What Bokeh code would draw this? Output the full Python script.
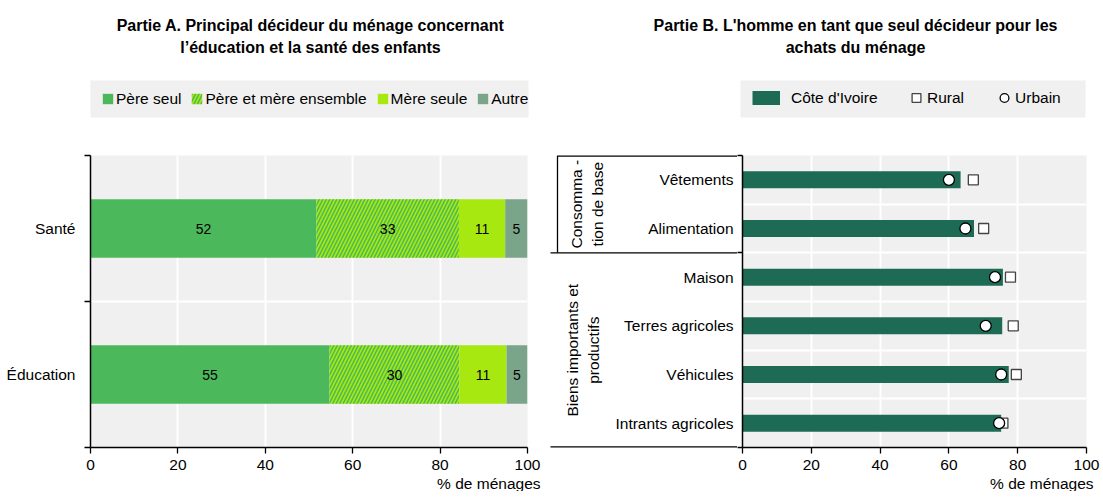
import math
import numpy as np
from bokeh.plotting import figure
from bokeh.models import (ColumnDataSource, Range1d, FixedTicker, Legend, LegendItem,
                          LabelSet, Title)
from bokeh.layouts import row, column
from bokeh.core.properties import value
from bokeh.embed import file_html
from bokeh.resources import INLINE

FONT = "Liberation Sans"

# ---------------- Panel A data ----------------
a_title = ["Partie A. Principal décideur du ménage concernant",
           "l’éducation et la santé des enfants"]
a_categories = ["Santé", "Éducation"]
a_series = ["Père seul", "Père et mère ensemble", "Mère seule", "Autre"]
a_pere_seul = [51.7, 54.7]
a_pere_mere = [32.6, 29.7]
a_mere_seule = [10.6, 10.8]
a_autre = [5.1, 4.8]

# ---------------- Panel B data ----------------
b_title = ["Partie B. L'homme en tant que seul décideur pour les",
           "achats du ménage"]
b_groups = ["Consomma -\ntion de base", "Biens importants et\nproductifs"]
b_group_sizes = [2, 4]
b_categories = ["Vêtements", "Alimentation", "Maison", "Terres agricoles",
                "Véhicules", "Intrants agricoles"]
b_series = ["Côte d'Ivoire", "Rural", "Urbain"]
b_cote_divoire = [63.4, 67.3, 75.7, 75.5, 77.4, 75.2]
b_rural = [67.1, 70.1, 77.9, 78.7, 79.6, 75.7]
b_urbain = [60.0, 64.8, 73.4, 70.7, 75.2, 74.6]

x_ticks = [0, 20, 40, 60, 80, 100]
x_title = "% de ménages"

GREEN = "#4cb85c"
LIME = "#a6e80f"
GREY_GREEN = "#7aa58a"
TEAL = "#1e6b55"
BG = "#f0f0f0"

TICK_FS = "15.5px"
LEG_FS = "15.5px"
TITLE_FS = "16px"
VAL_FS = "14px"

HEADER_H = 146
FRAME_H = 292
TOP_B = 9
BOTTOM_B = 44

a_colors = [GREEN, LIME, LIME, GREY_GREEN]
a_hatch = [None, "/", None, None]
HATCH = dict(hatch_color=GREEN, hatch_scale=7, hatch_weight=1.5)
NAN = [float("nan")]


def hbar_style(col, hatch):
    kw = dict(fill_color=col, line_color=None)
    if hatch:
        kw.update(hatch_pattern=hatch, **HATCH)
    return kw


# ======================= Header (titles + legends) =======================
hdr = figure(width=1101, height=HEADER_H, x_range=Range1d(0, 1101),
             y_range=Range1d(HEADER_H, 0), x_axis_type=None, y_axis_type=None,
             output_backend="svg", toolbar_location=None,
             min_border_left=0, min_border_right=0, min_border_top=0, min_border_bottom=0)
hdr.outline_line_color = None
hdr.grid.visible = False
hdr.background_fill_color = "white"
hdr.border_fill_color = "white"

for lines, xc in [(a_title, 310), (b_title, 855)]:
    hdr.text(x=[xc] * len(lines), y=[25, 47][:len(lines)], text=lines,
             text_align="center", text_baseline="middle", text_color="black",
             text_font=value(FONT), text_font_size=TITLE_FS, text_font_style="bold")

# legend background boxes
hdr.quad(left=[90, 740], right=[528, 1085], top=[80, 80], bottom=[117, 117],
         fill_color=BG, line_color=None)

LEG_COMMON = dict(orientation="horizontal", padding=0, margin=0,
                  label_text_font=FONT, label_text_font_size=LEG_FS,
                  label_text_color="black", background_fill_alpha=0,
                  border_line_color=None)

# legend A (proxy renderers with no visible data)
legA_r = []
for col, hatch in zip(a_colors, a_hatch):
    legA_r.append(hdr.hbar(y=NAN, left=NAN, right=NAN, height=1, **hbar_style(col, hatch)))
legA = Legend(items=[LegendItem(label=n, renderers=[r]) for n, r in zip(a_series, legA_r)],
              location=(101, 38.5), spacing=9, glyph_width=13, glyph_height=13,
              label_standoff=2, label_height=18, **LEG_COMMON)
hdr.add_layout(legA)

# legend B
r_civ_leg = hdr.line(x=NAN, y=NAN, line_width=14, line_color=TEAL)
r_rur_leg = hdr.scatter(x=NAN, y=NAN, marker="square", size=10, fill_color="white",
                        line_color="#444444", line_width=1.3)
r_urb_leg = hdr.scatter(x=NAN, y=NAN, marker="circle", size=10, fill_color="white",
                        line_color="black", line_width=1.3)
legB1 = Legend(items=[LegendItem(label=b_series[0], renderers=[r_civ_leg])],
               location=(752, 36), spacing=0, glyph_width=28, glyph_height=25,
               label_standoff=11, label_height=25, **LEG_COMMON)
legB2 = Legend(items=[LegendItem(label=b_series[1], renderers=[r_rur_leg]),
                      LegendItem(label=b_series[2], renderers=[r_urb_leg])],
               location=(905, 36), spacing=29, glyph_width=22, glyph_height=25,
               label_standoff=0, label_height=25, **LEG_COMMON)
hdr.add_layout(legB1)
hdr.add_layout(legB2)


# ======================= helpers =======================
def style_x_axis(p, title_offset):
    ax = p.xaxis[0]
    ax.ticker = FixedTicker(ticks=x_ticks)
    ax.major_tick_out = 6
    ax.major_tick_in = 0
    ax.minor_tick_line_color = None
    ax.axis_line_color = "black"
    ax.axis_line_width = 1.5
    ax.major_tick_line_color = "black"
    ax.major_tick_line_width = 1.3
    ax.major_label_text_font = FONT
    ax.major_label_text_font_size = TICK_FS
    ax.major_label_text_color = "black"
    ax.major_label_standoff = 6
    p.xgrid.ticker = FixedTicker(ticks=x_ticks[1:-1])
    p.xgrid.grid_line_color = "white"
    p.xgrid.grid_line_width = 2
    p.add_layout(Title(text=x_title, align="right", offset=title_offset, standoff=0,
                       text_font=FONT, text_font_size=TICK_FS, text_font_style="normal",
                       text_color="black"), "below")


def make_fig(frame_w, left_border, right_border):
    p = figure(frame_width=frame_w, frame_height=FRAME_H, x_range=Range1d(0, 100),
               output_backend="svg", toolbar_location=None,
               min_border_left=left_border, min_border_right=right_border,
               min_border_top=TOP_B, min_border_bottom=BOTTOM_B)
    p.background_fill_color = BG
    p.border_fill_color = "white"
    p.outline_line_color = None
    return p


# ======================= Panel A =======================
nA = len(a_categories)
yA = [nA - 0.5 - i for i in range(nA)]
pa = make_fig(437, 90, 18)
pa.y_range = Range1d(0, nA)
style_x_axis(pa, -13)

ya = pa.yaxis[0]
ya.ticker = FixedTicker(ticks=yA, minor_ticks=list(range(nA + 1)))
ya.major_label_overrides = {y: c for y, c in zip(yA, a_categories)}
ya.major_tick_out = 0
ya.major_tick_in = 0
ya.minor_tick_out = 6
ya.minor_tick_in = 0
ya.minor_tick_line_color = "black"
ya.minor_tick_line_width = 1.3
ya.axis_line_color = "black"
ya.axis_line_width = 1.5
ya.major_label_text_font = FONT
ya.major_label_text_font_size = TICK_FS
ya.major_label_text_color = "black"
ya.major_label_standoff = 9
pa.ygrid.ticker = FixedTicker(ticks=list(range(1, nA)))
pa.ygrid.grid_line_color = "white"
pa.ygrid.grid_line_width = 2

a_values = [a_pere_seul, a_pere_mere, a_mere_seule, a_autre]
left = np.zeros(nA)
for name, vals, col, hatch in zip(a_series, a_values, a_colors, a_hatch):
    v = np.array(vals, dtype=float)
    src = ColumnDataSource(dict(y=yA, left=left, right=left + v, mid=left + v / 2,
                                lab=[f"{x:.0f}" for x in v]))
    pa.hbar(y="y", left="left", right="right", height=0.4, source=src,
            **hbar_style(col, hatch))
    pa.add_layout(LabelSet(x="mid", y="y", text="lab", source=src,
                           text_align="center", text_baseline="middle",
                           text_font=value(FONT), text_font_size=VAL_FS,
                           text_color="black"))
    left = left + v

# ======================= Panel B labels area =======================
nB = len(b_categories)
yB = [nB - 0.5 - i for i in range(nB)]
LBL_W = 192
SEAM = 5  # pb left border, filled by the y-axis ticks at group edges
lbl = figure(frame_width=LBL_W, frame_height=FRAME_H,
             x_range=Range1d(0, LBL_W), y_range=Range1d(0, nB),
             x_axis_type=None, y_axis_type=None, output_backend="svg",
             toolbar_location=None, min_border_left=0, min_border_right=0,
             min_border_top=TOP_B, min_border_bottom=BOTTOM_B)
lbl.outline_line_color = None
lbl.grid.visible = False
lbl.background_fill_color = "white"
lbl.border_fill_color = "white"

lbl.text(x=[LBL_W + SEAM - 9] * nB, y=yB, text=b_categories, text_align="right",
         text_baseline="middle", text_color="black",
         text_font=value(FONT), text_font_size=TICK_FS)

edges = nB - np.concatenate([[0], np.cumsum(b_group_sizes)])
centers = (edges[:-1] + edges[1:]) / 2
lbl.text(x=[41.5, 37.5], y=centers, text=b_groups, angle=math.pi / 2,
         text_align="center", text_baseline="middle", text_color="black",
         text_font=value(FONT), text_font_size=TICK_FS, text_line_height=1.2)

# separators (lines on the frame edge are drawn twice as wide: half is clipped)
widths = [2.6 if e in (0, nB) else 1.3 for e in edges]
lbl.segment(x0=[12] + [5] * (len(edges) - 1), x1=[LBL_W] * len(edges),
            y0=edges, y1=edges, line_color="black", line_width=widths)
lbl.segment(x0=[12], x1=[12], y0=[edges[1]], y1=[edges[0]],
            line_color="black", line_width=1.3)

# ======================= Panel B =======================
pb = make_fig(344, SEAM, 15)
pb.y_range = Range1d(0, nB)
style_x_axis(pb, -7)
yb = pb.yaxis[0]
yb.ticker = FixedTicker(ticks=list(edges))
yb.major_tick_out = SEAM
yb.major_tick_in = 0
yb.major_tick_line_color = "black"
yb.major_tick_line_width = 1.3
yb.minor_tick_line_color = None
yb.axis_line_color = "black"
yb.axis_line_width = 1.5
yb.major_label_text_font_size = "0px"
yb.major_label_standoff = 0
yb.major_label_overrides = {float(e): "" for e in edges}
pb.ygrid.ticker = FixedTicker(ticks=list(range(1, nB)))
pb.ygrid.grid_line_color = "white"
pb.ygrid.grid_line_width = 2

srcB = ColumnDataSource(dict(y=yB, cat=b_categories, civ=b_cote_divoire,
                             rural=b_rural, urbain=b_urbain))
pb.hbar(y="y", left=0, right="civ", height=0.35, source=srcB,
        fill_color=TEAL, line_color=None)
pb.scatter(x="rural", y="y", marker="square", size=10, source=srcB,
           fill_color="white", line_color="#444444", line_width=1.3)
pb.scatter(x="urbain", y="y", marker="circle", size=11, source=srcB,
           fill_color="white", line_color="black", line_width=1.3)

layout = column(hdr, row(pa, lbl, pb, spacing=0), spacing=0)
open("out.html", "w").write(file_html(layout, INLINE))
